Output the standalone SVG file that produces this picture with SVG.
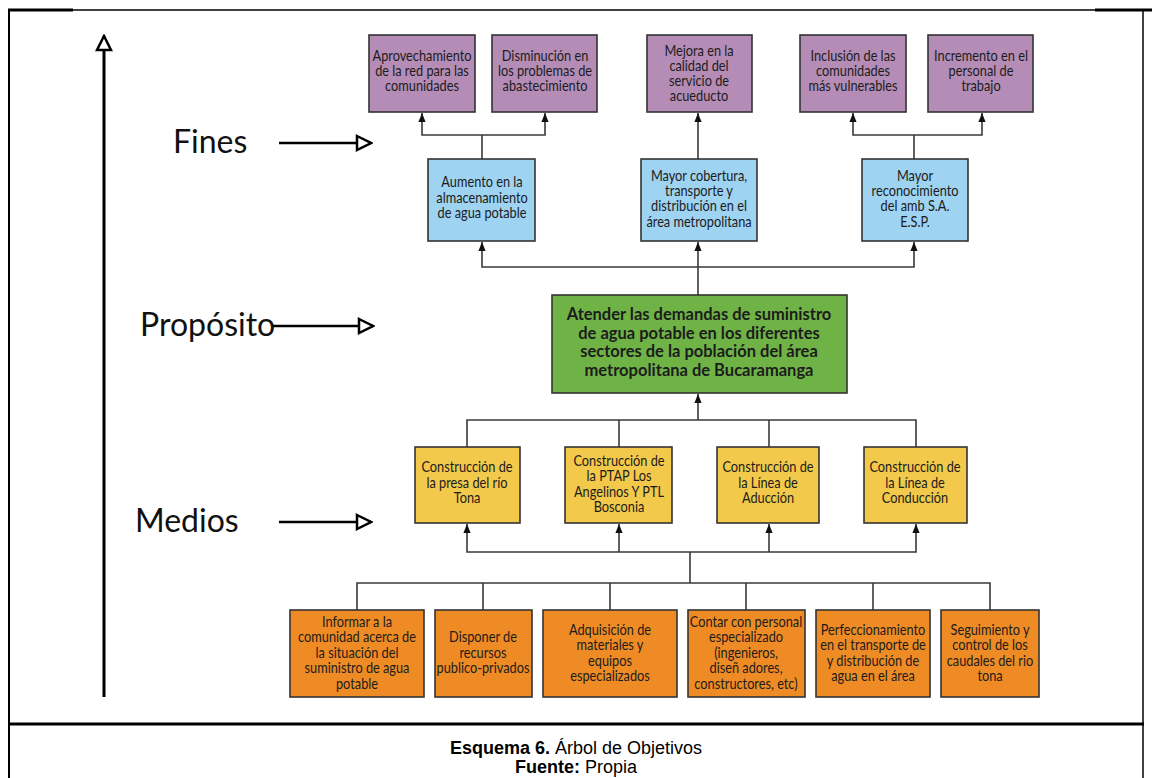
<svg xmlns="http://www.w3.org/2000/svg" width="1152" height="778" viewBox="0 0 1152 778">
  <defs>
    <style>
      .frame { stroke: #000; fill: none; }
      .lbl { font-family: Lato, "Open Sans", "DejaVu Sans", sans-serif; font-size: 32px; fill: #111; }
      .t { font-family: Lato, "Open Sans", "DejaVu Sans", sans-serif; font-size: 14.5px; fill: #1c1c1c; text-anchor: middle; }
      .tb { font-family: Lato, "Open Sans", "DejaVu Sans", sans-serif; font-size: 16.5px; font-weight: bold; fill: #1c1c1c; text-anchor: middle; }
      .box { stroke: #333; stroke-width: 1.6; }
      .fin { fill: #b48cb6; }
      .res { fill: #9fd3f2; }
      .pro { fill: #6fb346; }
      .med { fill: #f3c94b; }
      .act { fill: #ef8b25; }
      .c { stroke: #3a3a3a; stroke-width: 1.6; fill: none; }
      .ca { stroke: #3a3a3a; stroke-width: 1.6; fill: none; marker-end: url(#head); }
      .big { stroke: #000; stroke-width: 3; fill: none; marker-end: url(#open); }
      .pt { stroke: #000; stroke-width: 2.5; fill: none; marker-end: url(#open); }
      .cap { font-family: "Liberation Sans", Arial, sans-serif; font-size: 18px; fill: #000; text-anchor: middle; }
    </style>
    <marker id="head" viewBox="0 0 10 8" refX="10" refY="4" markerWidth="9" markerHeight="7.2" markerUnits="userSpaceOnUse" orient="auto">
      <path d="M0,0 L10,4 L0,8 z" fill="#111"/>
    </marker>
    <marker id="open" viewBox="0 0 18 18" refX="16" refY="9" markerWidth="18" markerHeight="18" markerUnits="userSpaceOnUse" orient="auto">
      <path d="M2,2 L16,9 L2,16 z" fill="#fff" stroke="#000" stroke-width="2.5" stroke-linejoin="miter"/>
    </marker>
  </defs>

  <rect width="1152" height="778" fill="#fff"/>

  <!-- page frame -->
  <g id="frame">
    <line class="frame" x1="8" y1="10" x2="1144" y2="10" stroke-width="1.5"/>
    <line class="frame" x1="8" y1="10" x2="73" y2="10" stroke-width="3"/>
    <line class="frame" x1="1095" y1="10" x2="1152" y2="10" stroke-width="3"/>
    <line class="frame" x1="9" y1="10" x2="9" y2="778" stroke-width="2"/>
    <line class="frame" x1="1143" y1="10" x2="1143" y2="778" stroke-width="1.5"/>
    <line class="frame" x1="8" y1="724" x2="1144" y2="724" stroke-width="3"/>
  </g>

  <!-- side labels -->
  <g id="axis">
    <line class="big" x1="104" y1="697" x2="104" y2="36"/>
  </g>
  <g id="label-fines">
    <text class="lbl" x="173" y="153">Fines</text>
    <line class="pt" x1="279" y1="143" x2="371" y2="143"/>
  </g>
  <g id="label-proposito">
    <text class="lbl" x="140" y="336">Propósito</text>
    <line class="pt" x1="273" y1="326" x2="373" y2="326"/>
  </g>
  <g id="label-medios">
    <text class="lbl" x="135" y="532">Medios</text>
    <line class="pt" x1="279" y1="522" x2="371" y2="522"/>
  </g>

  <!-- connectors -->
  <g id="connectors">
    <!-- blue 1 to purple 1, 2 -->
    <polyline class="c" points="482,159 482,135"/>
    <polyline class="ca" points="482,135 422,135 422,113"/>
    <polyline class="ca" points="482,135 545,135 545,113"/>
    <!-- blue 2 to purple 3 -->
    <polyline class="ca" points="698,159 698,113"/>
    <!-- blue 3 to purple 4, 5 -->
    <polyline class="c" points="914,159 914,135"/>
    <polyline class="ca" points="914,135 853,135 853,113"/>
    <polyline class="ca" points="914,135 982,135 982,113"/>
    <!-- purpose to results -->
    <polyline class="ca" points="698,267 482,267 482,242"/>
    <polyline class="ca" points="698,267 914,267 914,242"/>
    <polyline class="ca" points="698,295 698,242"/>
    <!-- means to purpose -->
    <polyline class="c" points="467,447 467,420 916,420 916,447"/>
    <line class="c" x1="619" y1="420" x2="619" y2="447"/>
    <line class="c" x1="769" y1="420" x2="769" y2="447"/>
    <polyline class="ca" points="698,420 698,394"/>
    <!-- actions to means -->
    <polyline class="ca" points="690,552 467,552 467,524"/>
    <polyline class="ca" points="690,552 916,552 916,524"/>
    <polyline class="ca" points="619,552 619,524"/>
    <polyline class="ca" points="769,552 769,524"/>
    <line class="c" x1="690" y1="552" x2="690" y2="583"/>
    <polyline class="c" points="357,610 357,583 990,583 990,610"/>
    <line class="c" x1="483" y1="583" x2="483" y2="610"/>
    <line class="c" x1="610" y1="583" x2="610" y2="610"/>
    <line class="c" x1="746" y1="583" x2="746" y2="610"/>
    <line class="c" x1="873" y1="583" x2="873" y2="610"/>
  </g>

  <!-- ends -->
  <g id="fin-1">
    <rect class="box fin" x="369" y="35" width="106" height="77"/>
    <g transform="translate(422 0) scale(0.88 1)">
      <text class="t" x="0" y="61">Aprovechamiento</text>
      <text class="t" x="0" y="76">de la red para las</text>
      <text class="t" x="0" y="91">comunidades</text>
    </g>
  </g>
  <g id="fin-2">
    <rect class="box fin" x="492" y="35" width="105" height="77"/>
    <g transform="translate(545 0) scale(0.88 1)">
      <text class="t" x="0" y="61">Disminución en</text>
      <text class="t" x="0" y="76">los problemas de</text>
      <text class="t" x="0" y="91">abastecimiento</text>
    </g>
  </g>
  <g id="fin-3">
    <rect class="box fin" x="647" y="35" width="105" height="77"/>
    <g transform="translate(699 0) scale(0.88 1)">
      <text class="t" x="0" y="56">Mejora en la</text>
      <text class="t" x="0" y="71">calidad del</text>
      <text class="t" x="0" y="86">servicio de</text>
      <text class="t" x="0" y="101">acueducto</text>
    </g>
  </g>
  <g id="fin-4">
    <rect class="box fin" x="800" y="35" width="106" height="77"/>
    <g transform="translate(853 0) scale(0.88 1)">
      <text class="t" x="0" y="61">Inclusión de las</text>
      <text class="t" x="0" y="76">comunidades</text>
      <text class="t" x="0" y="91">más vulnerables</text>
    </g>
  </g>
  <g id="fin-5">
    <rect class="box fin" x="928" y="35" width="105" height="77"/>
    <g transform="translate(981 0) scale(0.88 1)">
      <text class="t" x="0" y="61">Incremento en el</text>
      <text class="t" x="0" y="76">personal de</text>
      <text class="t" x="0" y="91">trabajo</text>
    </g>
  </g>

  <!-- results -->
  <g id="res-1">
    <rect class="box res" x="428" y="159" width="107" height="82"/>
    <g transform="translate(482 0) scale(0.88 1)">
      <text class="t" x="0" y="187">Aumento en la</text>
      <text class="t" x="0" y="203">almacenamiento</text>
      <text class="t" x="0" y="218">de agua potable</text>
    </g>
  </g>
  <g id="res-2">
    <rect class="box res" x="641" y="159" width="116" height="82"/>
    <g transform="translate(699 0) scale(0.88 1)">
      <text class="t" x="0" y="181">Mayor cobertura,</text>
      <text class="t" x="0" y="196">transporte y</text>
      <text class="t" x="0" y="211">distribución en el</text>
      <text class="t" x="0" y="227">área metropolitana</text>
    </g>
  </g>
  <g id="res-3">
    <rect class="box res" x="862" y="159" width="106" height="82"/>
    <g transform="translate(915 0) scale(0.88 1)">
      <text class="t" x="0" y="181">Mayor</text>
      <text class="t" x="0" y="196">reconocimiento</text>
      <text class="t" x="0" y="211">del amb S.A.</text>
      <text class="t" x="0" y="227">E.S.P.</text>
    </g>
  </g>

  <!-- purpose -->
  <g id="proposito">
    <rect class="box pro" x="552" y="295" width="295" height="98"/>
    <text class="tb" x="699" y="320">Atender las demandas de suministro</text>
    <text class="tb" x="699" y="338.5">de agua potable en los diferentes</text>
    <text class="tb" x="699" y="357">sectores de la población del área</text>
    <text class="tb" x="699" y="375.5">metropolitana de Bucaramanga</text>
  </g>

  <!-- means -->
  <g id="med-1">
    <rect class="box med" x="415" y="447" width="105" height="76"/>
    <g transform="translate(467 0) scale(0.88 1)">
      <text class="t" x="0" y="472">Construcción de</text>
      <text class="t" x="0" y="488">la presa del río</text>
      <text class="t" x="0" y="503">Tona</text>
    </g>
  </g>
  <g id="med-2">
    <rect class="box med" x="565" y="447" width="107" height="76"/>
    <g transform="translate(619 0) scale(0.88 1)">
      <text class="t" x="0" y="466">Construcción de</text>
      <text class="t" x="0" y="481">la PTAP Los</text>
      <text class="t" x="0" y="497">Angelinos Y PTL</text>
      <text class="t" x="0" y="512">Bosconia</text>
    </g>
  </g>
  <g id="med-3">
    <rect class="box med" x="717" y="447" width="102" height="76"/>
    <g transform="translate(768 0) scale(0.88 1)">
      <text class="t" x="0" y="472">Construcción de</text>
      <text class="t" x="0" y="488">la Línea de</text>
      <text class="t" x="0" y="503">Aducción</text>
    </g>
  </g>
  <g id="med-4">
    <rect class="box med" x="864" y="447" width="103" height="76"/>
    <g transform="translate(915 0) scale(0.88 1)">
      <text class="t" x="0" y="472">Construcción de</text>
      <text class="t" x="0" y="488">la Línea de</text>
      <text class="t" x="0" y="503">Conducción</text>
    </g>
  </g>

  <!-- actions -->
  <g id="act-1">
    <rect class="box act" x="290" y="610" width="134" height="87"/>
    <g transform="translate(357 0) scale(0.88 1)">
      <text class="t" x="0" y="627">Informar a la</text>
      <text class="t" x="0" y="642.5">comunidad acerca de</text>
      <text class="t" x="0" y="658">la situación del</text>
      <text class="t" x="0" y="673.5">suministro de agua</text>
      <text class="t" x="0" y="689">potable</text>
    </g>
  </g>
  <g id="act-2">
    <rect class="box act" x="435" y="610" width="97" height="87"/>
    <g transform="translate(483 0) scale(0.88 1)">
      <text class="t" x="0" y="642.5">Disponer de</text>
      <text class="t" x="0" y="658">recursos</text>
      <text class="t" x="0" y="673.5">publico-privados</text>
    </g>
  </g>
  <g id="act-3">
    <rect class="box act" x="543" y="610" width="134" height="87"/>
    <g transform="translate(610 0) scale(0.88 1)">
      <text class="t" x="0" y="635">Adquisición de</text>
      <text class="t" x="0" y="650.5">materiales y</text>
      <text class="t" x="0" y="666">equipos</text>
      <text class="t" x="0" y="681.5">especializados</text>
    </g>
  </g>
  <g id="act-4">
    <rect class="box act" x="688" y="610" width="117" height="87"/>
    <g transform="translate(746 0) scale(0.88 1)">
      <text class="t" x="0" y="627">Contar con personal</text>
      <text class="t" x="0" y="642.5">especializado</text>
      <text class="t" x="0" y="658">(ingenieros,</text>
      <text class="t" x="0" y="673.5">diseñ adores,</text>
      <text class="t" x="0" y="689">constructores, etc)</text>
    </g>
  </g>
  <g id="act-5">
    <rect class="box act" x="816" y="610" width="114" height="87"/>
    <g transform="translate(873 0) scale(0.88 1)">
      <text class="t" x="0" y="635">Perfeccionamiento</text>
      <text class="t" x="0" y="650.5">en el transporte de</text>
      <text class="t" x="0" y="666">y distribución de</text>
      <text class="t" x="0" y="681.5">agua en el área</text>
    </g>
  </g>
  <g id="act-6">
    <rect class="box act" x="941" y="610" width="98" height="87"/>
    <g transform="translate(990 0) scale(0.88 1)">
      <text class="t" x="0" y="635">Seguimiento y</text>
      <text class="t" x="0" y="650.5">control de los</text>
      <text class="t" x="0" y="666">caudales del rio</text>
      <text class="t" x="0" y="681.5">tona</text>
    </g>
  </g>

  <!-- caption -->
  <g id="caption">
    <text class="cap" x="576" y="754"><tspan font-weight="bold">Esquema 6.</tspan> Árbol de Objetivos</text>
    <text class="cap" x="576" y="773"><tspan font-weight="bold">Fuente:</tspan> Propia</text>
  </g>
</svg>
